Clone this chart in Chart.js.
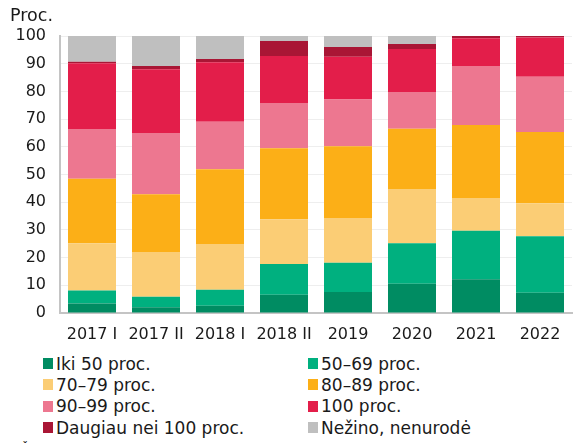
<!DOCTYPE html>
<html>
<head>
<meta charset="utf-8">
<script src="https://cdn.jsdelivr.net/npm/chart.js@4.4.0/dist/chart.umd.min.js"></script>
<style>
    body { margin: 0; background: #fff; font-family: "DejaVu Sans", Verdana, sans-serif; color: #1a1a1a; }
    #wrap { position: relative; width: 574px; height: 443px; overflow: hidden; }
    #myChart { position: absolute; left: 0; top: 0; }
    #proc { position: absolute; left: 10px; top: 5px; font-size: 17.5px; }
    #legend { position: absolute; left: 43px; top: 353px; display: grid; grid-template-columns: 265px 250px; }
    .item { display: flex; align-items: center; height: 21.3px; font-size: 17px; white-space: nowrap; }
    .box { width: 10px; height: 11px; margin-right: 3px; flex: none; }
    #src { position: absolute; left: 21px; top: 441px; font-size: 13px; }
</style>
</head>
<body>
<div id="wrap">
    <canvas id="myChart" width="574" height="350"></canvas>
    <div id="proc">Proc.</div>
    <div id="legend"></div>
    <div id="src">Š</div>
</div>
<script>
const kategorijos = ["2017 I", "2017 II", "2018 I", "2018 II", "2019", "2020", "2021", "2022"];

const iki50 =      [3.4, 2.1, 2.6, 6.6, 7.6, 10.6, 12.2, 7.3];
const p50_69 =     [4.7, 3.8, 5.8, 11.1, 10.5, 14.6, 17.5, 20.4];
const p70_79 =     [17.1, 16.1, 16.5, 16.1, 16.2, 19.6, 11.8, 11.9];
const p80_89 =     [23.3, 20.9, 27.0, 25.7, 25.9, 21.7, 26.4, 25.7];
const p90_99 =     [17.9, 22.1, 17.1, 16.3, 16.9, 13.3, 21.3, 20.0];
const p100 =       [23.8, 23.0, 21.5, 17.0, 15.4, 15.5, 10.0, 14.2];
const daugiau100 = [0.5, 1.2, 1.2, 5.4, 3.5, 1.8, 0.8, 0.5];
const nezino =     [9.3, 10.8, 8.3, 1.8, 4.0, 2.9, 0, 0];

const serijos = [
    { label: "Iki 50 proc.", data: iki50, color: "#008c62" },
    { label: "50–69 proc.", data: p50_69, color: "#00b07f" },
    { label: "70–79 proc.", data: p70_79, color: "#fbcd75" },
    { label: "80–89 proc.", data: p80_89, color: "#fcaf17" },
    { label: "90–99 proc.", data: p90_99, color: "#ed7790" },
    { label: "100 proc.", data: p100, color: "#e31e4a" },
    { label: "Daugiau nei 100 proc.", data: daugiau100, color: "#a91635" },
    { label: "Nežino, nenurodė", data: nezino, color: "#bfbfbf" }
];

const yTicks = [0, 10, 20, 30, 40, 50, 60, 70, 80, 90, 100];

const fontas = { family: "'DejaVu Sans', Verdana, sans-serif", size: 16 };

const ctx = document.getElementById("myChart").getContext("2d");

new Chart(ctx, {
    type: "bar",
    data: {
        labels: kategorijos,
        datasets: serijos.map(s => ({
            label: s.label,
            data: s.data,
            backgroundColor: s.color,
            borderWidth: 0,
            barPercentage: 0.75,
            categoryPercentage: 1
        }))
    },
    options: {
        responsive: false,
        animation: false,
        layout: { padding: { top: 36, right: 2, left: 0, bottom: 0 } },
        plugins: {
            legend: { display: false },
            tooltip: { enabled: false }
        },
        scales: {
            x: {
                stacked: true,
                grid: { display: false, drawTicks: false },
                border: { display: true, color: "#c4c4c4", width: 2 },
                ticks: { color: "#1a1a1a", font: fontas, padding: 12, maxRotation: 0, autoSkip: false },
                afterFit: (scale) => { scale.height = 37; }
            },
            y: {
                stacked: true,
                min: 0,
                max: 100,
                afterBuildTicks: (scale) => { scale.ticks = yTicks.map(v => ({ value: v })); },
                grid: { color: "#eeeeee", lineWidth: 1, drawTicks: false },
                border: { display: true, color: "#c4c4c4", width: 2 },
                ticks: { color: "#1a1a1a", font: fontas, padding: 14 },
                afterFit: (scale) => { scale.width = 60; }
            }
        }
    }
});

const legendEl = document.getElementById("legend");
serijos.forEach((s) => {
    const item = document.createElement("div");
    item.className = "item";
    const box = document.createElement("span");
    box.className = "box";
    box.style.background = s.color;
    const txt = document.createElement("span");
    txt.textContent = s.label;
    item.appendChild(box);
    item.appendChild(txt);
    legendEl.appendChild(item);
});
</script>
</body>
</html>
